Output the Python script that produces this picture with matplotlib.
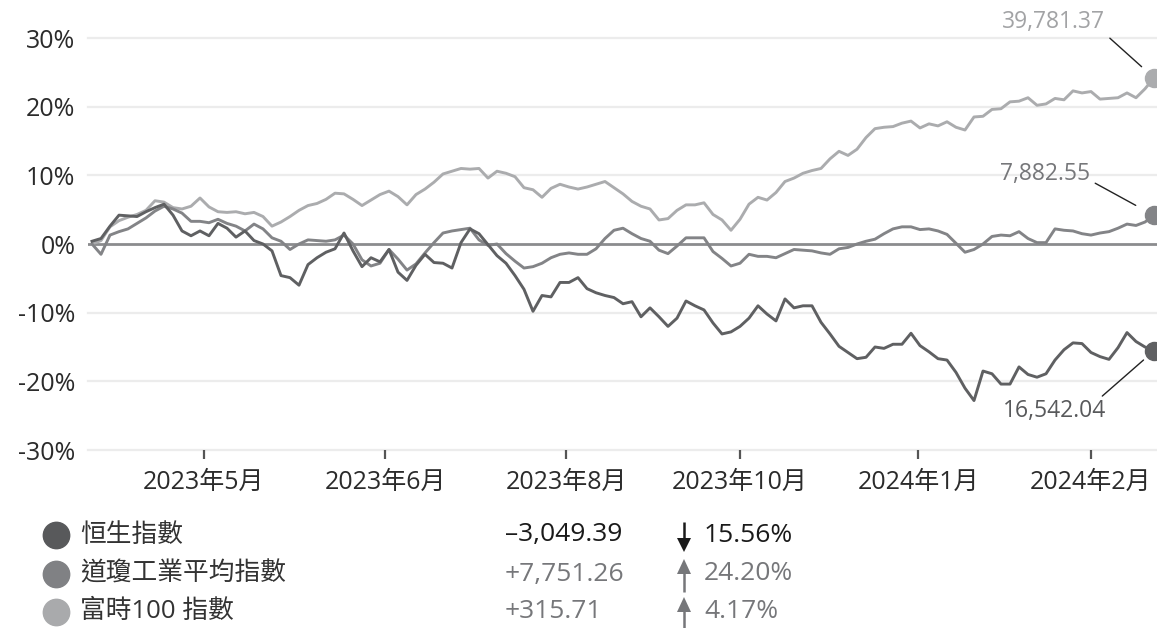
import numpy as np
import matplotlib
matplotlib.use("Agg")
import matplotlib.pyplot as plt

plt.rcParams['font.family'] = ['Open Sans', 'Noto Sans CJK TC', 'DejaVu Sans']

# % change since start, sampled evenly over the period
hsi = [
    0.4, 0.8, 2.6, 4.2, 4.1, 4.0, 4.7, 5.3, 5.8, 4.2,
    1.9, 1.2, 1.9, 1.2, 3.0, 2.3, 1.0, 1.9, 0.5, 0.0,
    -1.0, -4.6, -4.9, -6.0, -3.0, -2.0, -1.2, -0.7, 1.6, -1.0,
    -3.3, -2.0, -2.6, -0.8, -4.1, -5.3, -3.1, -1.5, -2.7, -2.8,
    -3.5, 0.2, 2.2, 1.5, -0.1, -1.7, -2.8, -4.6, -6.6, -9.8,
    -7.5, -7.7, -5.6, -5.6, -4.9, -6.5, -7.1, -7.5, -7.8, -8.7,
    -8.4, -10.6, -9.3, -10.6, -12.0, -10.8, -8.3, -9.0, -9.6, -11.5,
    -13.1, -12.8, -12.0, -10.8, -9.0, -10.2, -11.2, -8.0, -9.3, -9.0,
    -9.0, -11.4, -13.1, -14.9, -15.8, -16.7, -16.5, -15.0, -15.2, -14.6,
    -14.6, -13.0, -14.8, -15.7, -16.7, -16.9, -18.7, -21.0, -22.8, -18.5,
    -18.9, -20.4, -20.4, -17.9, -19.0, -19.4, -18.9, -16.9, -15.4, -14.4,
    -14.5, -15.8, -16.4, -16.8, -15.1, -12.9, -14.2, -15.0, -15.56,
]
ftse = [
    0.0, -1.5, 1.3, 1.8, 2.2, 3.0, 3.8, 4.8, 5.5, 5.1,
    4.5, 3.3, 3.3, 3.1, 3.6, 3.0, 2.6, 1.9, 2.9, 2.2,
    0.9, 0.4, -0.8, 0.0, 0.6, 0.5, 0.4, 0.6, 1.3, 0.0,
    -2.3, -3.2, -2.8, -0.8, -2.2, -3.8, -2.9, -1.3, 0.2, 1.6,
    1.9, 2.1, 2.3, 0.6, -0.2, 0.0, -1.4, -2.5, -3.5, -3.3,
    -2.8, -2.0, -1.5, -1.3, -1.5, -1.5, -0.7, 0.8, 2.0, 2.3,
    1.5, 0.8, 0.4, -0.9, -1.4, -0.3, 0.9, 0.9, 0.9, -1.1,
    -2.1, -3.2, -2.8, -1.5, -1.8, -1.8, -2.0, -1.4, -0.8, -0.9,
    -1.0, -1.3, -1.5, -0.7, -0.5, 0.0, 0.4, 0.7, 1.5, 2.2,
    2.5, 2.5, 2.1, 2.2, 1.9, 1.4, 0.1, -1.2, -0.8, 0.0,
    1.1, 1.3, 1.2, 1.8, 0.8, 0.2, 0.2, 2.2, 2.0, 1.9,
    1.5, 1.3, 1.6, 1.8, 2.3, 2.9, 2.7, 3.2, 4.17,
]
dow = [
    0.0, 0.5, 2.5, 3.4, 3.9, 4.3, 4.9, 6.3, 6.1, 5.3,
    5.1, 5.5, 6.7, 5.4, 4.7, 4.6, 4.7, 4.4, 4.6, 4.0,
    2.6, 3.2, 4.0, 4.9, 5.6, 5.9, 6.5, 7.4, 7.3, 6.5,
    5.6, 6.4, 7.2, 7.7, 6.9, 5.7, 7.2, 8.0, 9.0, 10.2,
    10.6, 11.0, 10.9, 11.0, 9.6, 10.6, 10.3, 9.8, 8.2, 7.9,
    6.8, 8.1, 8.7, 8.3, 8.0, 8.3, 8.7, 9.1, 8.2, 7.3,
    6.2, 5.5, 5.1, 3.5, 3.7, 4.9, 5.7, 5.7, 6.0, 4.3,
    3.5, 2.0, 3.6, 5.8, 6.8, 6.4, 7.5, 9.1, 9.6, 10.3,
    10.7, 11.0, 12.4, 13.5, 12.9, 13.8, 15.5, 16.8, 17.0, 17.1,
    17.6, 17.9, 16.9, 17.5, 17.2, 17.8, 17.0, 16.6, 18.5, 18.6,
    19.6, 19.7, 20.7, 20.8, 21.3, 20.2, 20.4, 21.2, 21.0, 22.3,
    22.0, 22.2, 21.1, 21.2, 21.3, 22.0, 21.3, 22.6, 24.2,
]

tick_labels = ["2023年5月", "2023年6月", "2023年8月", "2023年10月", "2024年1月", "2024年2月"]
tick_pos = [12.4, 32.6, 52.7, 72.0, 91.8, 111.0]

names = ["恒生指數", "道瓊工業平均指數", "富時100 指數"]
last_values = ["16,542.04", "39,781.37", "7,882.55"]
changes = ["–3,049.39", "+7,751.26", "+315.71"]
pct = ["15.56%", "24.20%", "4.17%"]
direction = ["down", "up", "up"]

c_hsi, c_dow, c_ftse = "#5f6062", "#abacae", "#838487"

fig = plt.figure(figsize=(11.57, 6.28), dpi=100)
W, H = 1157, 628
ax = fig.add_axes([88 / W, (H - 450) / H, (W - 88) / W, 412 / H])

x = np.arange(len(hsi))
ax.set_xlim(-4 / 9, (W - 92) / 9)
ax.set_ylim(-30, 30)

for v in range(-30, 31, 10):
    if v != 0:
        ax.axhline(v, color="#ececec", lw=1.6, zorder=0, clip_on=False)
ax.axhline(0, color="#8b8c8e", lw=2.0, zorder=1)

for data, col in [(dow, c_dow), (ftse, c_ftse), (hsi, c_hsi)]:
    ax.plot(x, data, color=col, lw=2.1, zorder=3, solid_joinstyle="round")
    ax.plot(x[-1], data[-1], "o", ms=13, color=col, zorder=4, clip_on=False)

for s in ax.spines.values():
    s.set_visible(False)

ax.set_yticks(range(-30, 31, 10))
ax.set_yticklabels([f"{v}%" for v in range(-30, 31, 10)])
ax.set_xticks(tick_pos)
ax.set_xticklabels(tick_labels)
ax.tick_params(axis="y", length=0, pad=9, labelsize=18, labelcolor="#2b2b2b")
ax.tick_params(axis="x", length=6.5, width=1.6, color="#555555", pad=8,
               labelsize=18, labelcolor="#2b2b2b")

# end labels with leader lines
ax.annotate(last_values[1], xy=(x[-1], dow[-1]), xytext=(-49, 56),
            textcoords="offset pixels", ha="right", va="center",
            fontsize=16.5, color="#a2a3a5",
            arrowprops=dict(arrowstyle="-", color="#222222", lw=1.0,
                            relpos=(1.0, 0.0), shrinkA=2, shrinkB=12))
ax.annotate(last_values[2], xy=(x[-1], ftse[-1]), xytext=(-64, 41),
            textcoords="offset pixels", ha="right", va="center",
            fontsize=16.5, color="#76777a",
            arrowprops=dict(arrowstyle="-", color="#222222", lw=1.0,
                            relpos=(1.0, 0.25), shrinkA=2, shrinkB=15))
ax.annotate(last_values[0], xy=(x[-1], hsi[-1]), xytext=(-48, -60),
            textcoords="offset pixels", ha="right", va="center",
            fontsize=16.5, color="#58595b",
            arrowprops=dict(arrowstyle="-", color="#222222", lw=1.0,
                            relpos=(0.92, 0.95), shrinkA=0, shrinkB=10))

# legend / summary table in pixel coordinates
ov = fig.add_axes([0, 0, 1, 1], facecolor="none")
ov.set_xlim(0, W)
ov.set_ylim(H, 0)
ov.axis("off")

rows_y = [535, 574, 612]
dot_cols = ["#58595b", "#808184", "#a9aaac"]
val_cols = ["#1a1a1a", "#76777a", "#76777a"]
ax_x = 684
for i, yy in enumerate(rows_y):
    ov.plot(56, yy, "o", ms=19, color=dot_cols[i])
    ov.text(80, yy, names[i], fontsize=18.5, color="#333333", va="center", ha="left")
    ov.text(505, yy, changes[i], fontsize=19, color=val_cols[i], va="center", ha="left")
    ov.text(704, yy, pct[i], fontsize=19, color=val_cols[i], va="center", ha="left")
    c = val_cols[i]
    if direction[i] == "down":
        ov.plot([ax_x, ax_x], [yy - 13, yy + 4], color=c, lw=1.8, solid_capstyle="butt")
        ov.fill([ax_x - 7, ax_x + 7, ax_x], [yy + 3, yy + 3, yy + 17], color=c, lw=0)
    else:
        ov.plot([ax_x, ax_x], [yy - 2, yy + 18], color=c, lw=1.8, solid_capstyle="butt")
        ov.fill([ax_x - 7, ax_x + 7, ax_x], [yy, yy, yy - 15], color=c, lw=0)

fig.savefig("out.png", dpi=100)
